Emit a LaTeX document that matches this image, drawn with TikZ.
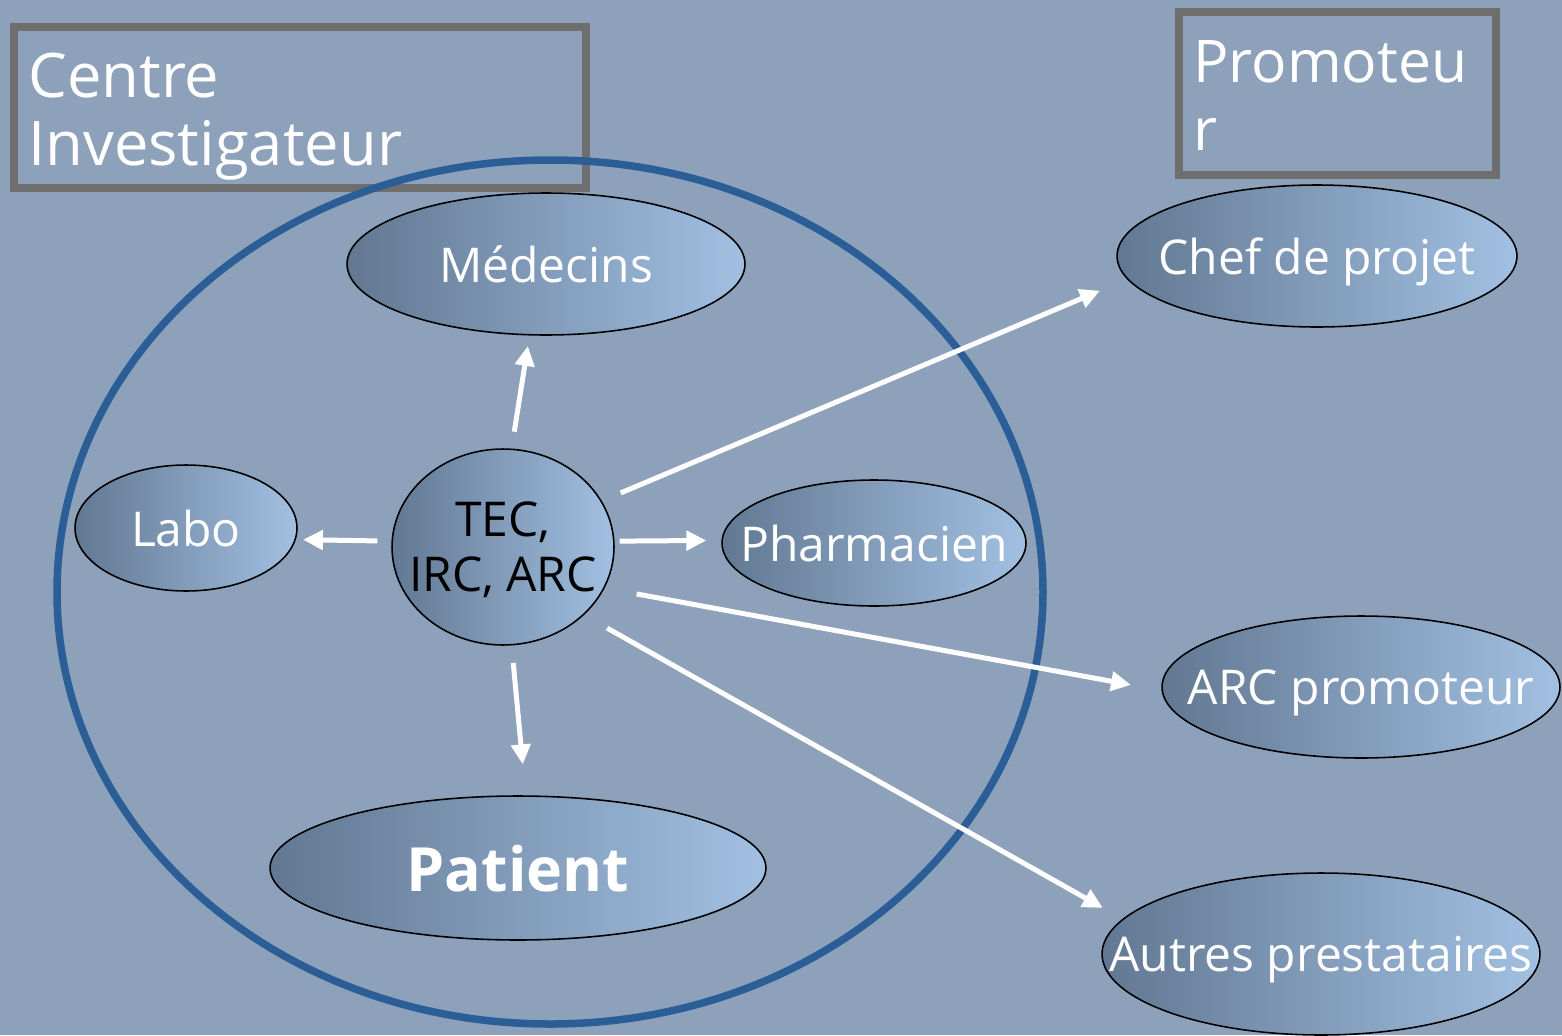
\documentclass[tikz,border=0pt]{standalone}
\usepackage{fontspec}
\setmainfont{Open Sans}
\usetikzlibrary{shapes.geometric,arrows.meta}
\definecolor{fond}{RGB}{141,161,186}
\definecolor{cercle}{RGB}{43,94,150}
\definecolor{cadregris}{RGB}{110,110,110}
\definecolor{bulleG}{RGB}{98,120,146}
\definecolor{bulleD}{RGB}{162,192,226}
\tikzset{
  bulle/.style={ellipse, draw=black, line width=0.9pt, left color=bulleG, right color=bulleD, inner sep=0pt},
  txt/.style={text=white, font=\fontsize{27.3}{31.3}\selectfont, inner sep=0pt, text depth=0pt},
  cadre/.style={draw=cadregris, line width=0.16cm},
  titre/.style={text=white, font=\fontsize{35}{38.7}\selectfont, align=left, inner sep=0pt},
  fleche/.style={draw=white, line width=0.1cm, -{Triangle[length=0.4cm,width=0.38cm]}}
}
\begin{document}
\begin{tikzpicture}[x=0.02cm,y=-0.02cm]
\fill[fond] (0,0) rectangle (1562,1035);
\useasboundingbox (0,0) rectangle (1562,1035);
% cadres
\node[cadre, minimum width=11.46cm, minimum height=3.24cm] (centre) at (300,107.5) {};
\node[titre, anchor=base west] (centretxt) at (28,165) {Centre\\Investigateur};
\node[cadre, minimum width=6.36cm, minimum height=3.28cm] (promo) at (1337.5,93.5) {};
\node[titre, anchor=base west, font=\fontsize{33.5}{38.7}\selectfont] (promotxt) at (1193,150) {Promoteu\\r};
% centre investigateur
\draw[cercle, line width=0.15cm] (550,592) ellipse [x radius=493, y radius=432];
\node[bulle, minimum width=7.96cm, minimum height=2.84cm, label={[txt]center:Médecins}] (med) at (546,264) {};
\node[bulle, minimum width=4.44cm, minimum height=2.52cm, label={[txt]center:Labo}] (labo) at (186,528) {};
\node[bulle, minimum width=4.44cm, minimum height=3.92cm, label={[txt, text=black, align=center]center:TEC,\\IRC, ARC}] (tec) at (503,547) {};
\node[bulle, minimum width=6.08cm, minimum height=2.52cm, label={[txt]center:Pharmacien}] (pharm) at (874,543) {};
\node[bulle, minimum width=9.92cm, minimum height=2.88cm, label={[txt, font=\fontsize{34.7}{40}\selectfont\bfseries]center:Patient}] (patient) at (518,868) {};
% promoteur
\node[bulle, minimum width=8cm, minimum height=2.84cm, label={[txt]center:Chef de projet}] (chef) at (1317,256) {};
\node[bulle, minimum width=7.96cm, minimum height=2.84cm, label={[txt]center:ARC promoteur}] (arcp) at (1361,687) {};
\node[bulle, minimum width=8.76cm, minimum height=3.24cm, label={[txt]center:Autres prestataires}] (autres) at (1321,954) {};
% fleches
\draw[fleche, shorten <=0.34cm, shorten >=0.21cm] (tec.85) -- (med.257);
\draw[fleche, shorten <=0.28cm, shorten >=0.14cm] (tec.177) -- (labo.354);
\draw[fleche, shorten <=0.1cm, shorten >=0.3cm] (tec.3) -- (pharm.179);
\draw[fleche, shorten <=0.35cm, shorten >=0.62cm] (tec.275) -- (patient.84);
\draw[fleche, shorten <=0.41cm, shorten >=0.59cm] (tec.25) -- (chef.187);
\draw[fleche, shorten <=0.65cm, shorten >=0.62cm] (tec.338) -- (arcp.181);
\draw[fleche, shorten <=0.53cm, shorten >=0.45cm] (tec.320) -- (autres.170);
\end{tikzpicture}
\end{document}
